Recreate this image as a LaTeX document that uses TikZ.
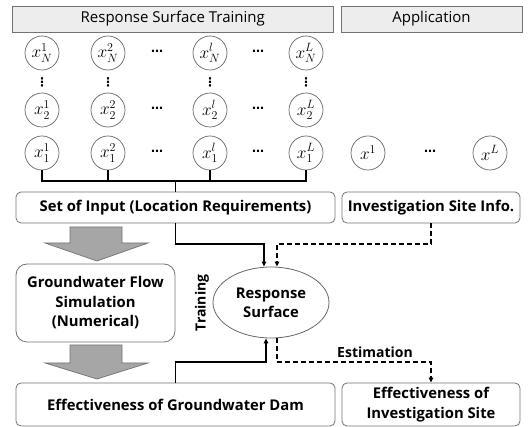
\documentclass[tikz,border=0pt]{standalone}
\usepackage{fontspec}
\setmainfont{Open Sans}
\newfontfamily\symf{DejaVu Sans}
\usetikzlibrary{arrows.meta,shapes.geometric,calc}
\begin{document}
\begin{tikzpicture}[x=1pt,y=-1pt,
  hdr/.style={draw=black!55,fill=black!7,line width=0.8pt,minimum height=26pt,inner sep=0pt,font=\fontsize{15}{17}\selectfont},
  box/.style={draw=black!55,fill=white,line width=0.8pt,rounded corners=5pt,inner sep=0pt,align=center,font=\bfseries\fontsize{14.8}{19.5}\selectfont},
  var/.style={circle,draw=black!60,line width=0.7pt,minimum size=34pt,inner sep=0pt,font=\fontsize{18}{20}\selectfont},
  dotsn/.style={inner sep=0pt,font=\symf\bfseries\fontsize{12}{14}\selectfont},
  vdotsn/.style={inner sep=0pt,font=\symf\bfseries\fontsize{12}{13}\selectfont},
  conn/.style={line width=1.6pt,black},
  dconn/.style={line width=1.3pt,black,dash pattern=on 5pt off 3pt},
  tip/.style={-{Triangle[length=5pt,width=4.5pt]}},
  blockarrow/.style={draw=black!55,fill=black!35,line width=0.7pt},
  lbl/.style={font=\bfseries\fontsize{14}{15}\selectfont,inner sep=0pt}
]
\useasboundingbox (0,0) rectangle (531,427);

% headers
\node[hdr,minimum width=320.5pt] (hdrA) at (172.75,19) {Response Surface Training};
\node[hdr,minimum width=181pt] (hdrB) at (431.5,19) {Application};

% variable grid
\foreach \c/\xx/\su in {1/42/1,2/108/2,3/210/l,4/306/L}{
  \node[var] (xN\c) at (\xx,53) {$x_N^{\su}$};
  \node[var] (xB\c) at (\xx,110) {$x_2^{\su}$};
  \node[var] (xA\c) at (\xx,153) {$x_1^{\su}$};
  \node[vdotsn] (vd\c) at (\xx,82) {⋮};
}
\foreach \yy/\r in {53/N,110/B,153/A}{
  \node[dotsn] (hd1\r) at (157,\yy) {⋯};
  \node[dotsn] (hd2\r) at (258,\yy) {⋯};
}
\node[var] (ap1) at (368,153) {$x^{1}$};
\node[dotsn] (apd) at (430,153) {⋯};
\node[var] (apL) at (490,153) {$x^{L}$};

% boxes
\node[box,minimum width=319pt,minimum height=31pt] (setin) at (175.5,207.5) {Set of Input (Location Requirements)};
\node[box,minimum width=178pt,minimum height=31pt] (site) at (431,207.5) {Investigation Site Info.};
\node[box,rounded corners=11pt,minimum width=159pt,minimum height=78pt] (gw) at (95.5,303) {Groundwater Flow\\Simulation\\(Numerical)};
\node[box,minimum width=319pt,minimum height=43pt] (effdam) at (175.5,404.5) {Effectiveness of Groundwater Dam};
\node[box,minimum width=178pt,minimum height=43pt] (effsite) at (431,404.5) {Effectiveness of\\Investigation Site};
\node[ellipse,draw=black!60,line width=0.8pt,minimum width=116pt,minimum height=71pt,inner sep=0pt,align=center,font=\bfseries\fontsize{14.8}{19}\selectfont] (rs) at (271,302.5) {Response\\Surface};

% bus
\coordinate (bus) at (175.5,181);
\draw[conn] (xA1.south) -- (xA1.south |- bus) -- (xA4.south |- bus) -- (xA4.south);
\draw[conn] (xA2.south) -- (xA2.south |- bus);
\draw[conn] (xA3.south) -- (xA3.south |- bus);
\draw[conn] (bus) -- (setin.north);

% block arrows
\draw[blockarrow] (70,227) -- (122,227) -- (122,243) -- (148,243) -- (97,261) -- (45,243) -- (70,243) -- cycle;
\draw[blockarrow] (70,345) -- (122,345) -- (122,363) -- (148,363) -- (97,379) -- (45,363) -- (70,363) -- cycle;

% connectors
\coordinate (tin) at ([xshift=-7pt]rs.north);
\coordinate (tdin) at ([xshift=6pt]rs.north);
\coordinate (bin) at ([xshift=-5pt]rs.south);
\coordinate (bdout) at ([xshift=6pt]rs.south);
\draw[conn,tip] (setin.south) -- (setin.south |- 0,244) -| (tin);
\draw[dconn,tip] (site.south) -- (site.south |- 0,244) -| (tdin);
\draw[conn,tip] (effdam.north) -- (effdam.north |- 0,362) -| (bin);
\draw[dconn,tip] (bdout) -- (bdout |- 0,362) -| (effsite.north);

% labels
\node[lbl,rotate=90] (train) at (202,303) {Training};
\node[lbl] (est) at (375,352) {Estimation};
\end{tikzpicture}
\end{document}
